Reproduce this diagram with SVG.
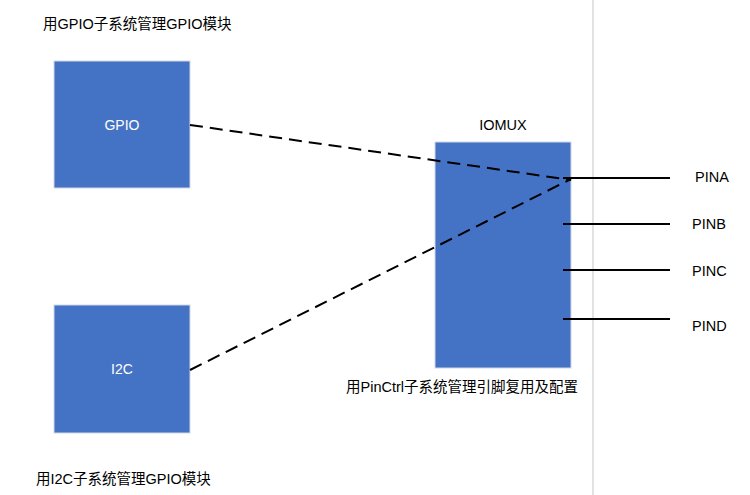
<svg xmlns="http://www.w3.org/2000/svg" width="750" height="495" viewBox="0 0 750 495">
<style>
.box{fill:#4472C4;stroke:#D0D7E5;stroke-width:1}
.t{font-family:"Liberation Sans","Noto Sans CJK SC",sans-serif;font-size:14.5px;fill:#000}
.w{font-family:"Liberation Sans","Noto Sans CJK SC",sans-serif;font-size:14px;fill:#fff}
.dash{stroke:#000;stroke-width:2;stroke-dasharray:13,7;fill:none}
.pin{stroke:#000;stroke-width:2}
</style>
<rect width="750" height="495" fill="#fff"/>
<line x1="593" y1="0" x2="593" y2="495" stroke="#D9D9D9" stroke-width="1.5"/>
<text class="t" x="43" y="29">用GPIO子系统管理GPIO模块</text>
<text class="t" x="36" y="484">用I2C子系统管理GPIO模块</text>
<g id="gpio"><rect class="box" x="54" y="61" width="136" height="127"/><text class="w" x="122" y="130" text-anchor="middle">GPIO</text></g>
<g id="i2c"><rect class="box" x="54" y="305" width="136" height="128"/><text class="w" x="122" y="374" text-anchor="middle">I2C</text></g>
<g id="iomux"><rect class="box" x="435" y="142" width="136" height="226"/><text class="t" x="503" y="130" text-anchor="middle">IOMUX</text><text class="t" x="462" y="392" text-anchor="middle">用PinCtrl子系统管理引脚复用及配置</text></g>
<g id="connectors">
<line class="dash" x1="190" y1="125" x2="571" y2="180"/>
<line class="dash" x1="190" y1="370" x2="571" y2="179"/>
<line class="pin" x1="563" y1="178" x2="670" y2="178"/>
<line class="pin" x1="563" y1="224" x2="670" y2="224"/>
<line class="pin" x1="563" y1="270" x2="670" y2="270"/>
<line class="pin" x1="563" y1="319" x2="670" y2="319"/>
</g>
<g id="pina"><text class="t" x="695" y="182">PINA</text></g>
<g id="pinb"><text class="t" x="692" y="229">PINB</text></g>
<g id="pinc"><text class="t" x="692" y="276">PINC</text></g>
<g id="pind"><text class="t" x="692" y="331">PIND</text></g>
</svg>
